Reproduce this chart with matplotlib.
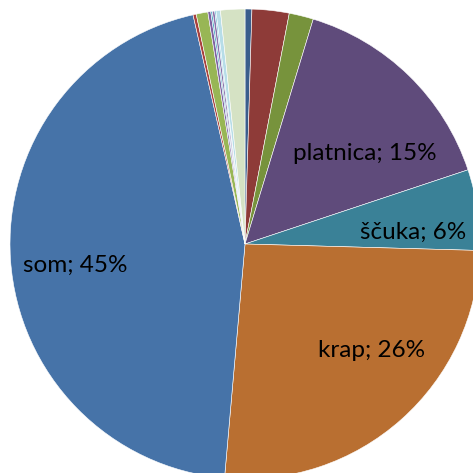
import matplotlib
matplotlib.use("Agg")
import matplotlib.pyplot as plt
import numpy as np

# Slices listed clockwise from 12 o'clock
categories = ["", "", "", "platnica", "ščuka", "krap", "som",
              "", "", "", "", "", "", "", ""]
values = [0.47, 2.55, 1.67, 15.2, 5.55, 25.95, 45.06,
          0.22, 0.8, 0.2, 0.11, 0.16, 0.09, 0.3, 1.67]
colors = ["#3A5E8C", "#8E3B38", "#77933C", "#5F4B7B", "#3A8197", "#B96F31", "#4673A8",
          "#A8403D", "#98B655", "#7D61A0", "#4BACC6", "#8A72AA", "#6FBFD6", "#B7DDE8", "#D5E2C4"]

# label layout: (angle from 12 o'clock clockwise in degrees, distance as fraction of radius)
label_layout = {"platnica": (52.8, 0.64), "ščuka": (85.9, 0.719),
                "krap": (130.0, 0.702), "som": (263.0, 0.729)}

W = H = 473
fig = plt.figure(figsize=(W / 100, H / 100), dpi=100)
ax = fig.add_axes([0, 0, 1, 1])
cx, cy, R = 245, H - 244, 235

total = sum(values)
wedges, _ = ax.pie(values, colors=colors, startangle=90, counterclock=False,
                   center=(cx, cy), radius=R,
                   wedgeprops=dict(edgecolor="white", linewidth=0.4))

for name, v in zip(categories, values):
    if not name:
        continue
    ang, d = label_layout[name]
    t = np.deg2rad(ang)
    x = cx + d * R * np.sin(t)
    y = cy + d * R * np.cos(t)
    ax.text(x, y, f"{name}; {v / total * 100:.0f}%", ha="center", va="center",
            fontsize=17.5, family=["Lato", "DejaVu Sans"], color="#000000")

ax.set_xlim(0, W)
ax.set_ylim(0, H)
ax.set_aspect("equal")
ax.axis("off")
fig.savefig("out.png", dpi=100, facecolor="white")
